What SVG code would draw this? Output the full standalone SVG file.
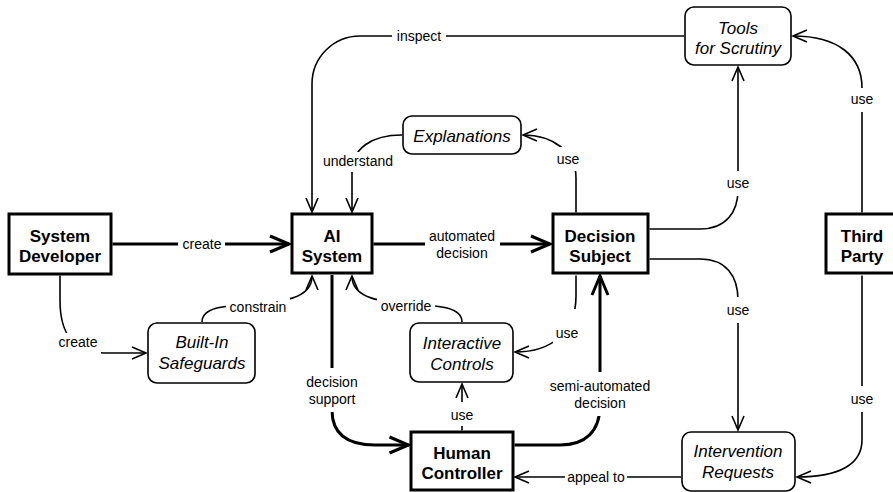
<svg xmlns="http://www.w3.org/2000/svg" width="893" height="492" viewBox="0 0 893 492">
<style>
  text{font-family:"Liberation Sans",Arial,Helvetica,sans-serif;fill:#000;text-anchor:middle}
  .node{fill:#fff;stroke:#000;stroke-width:3}
  .tool{fill:#fff;stroke:#000;stroke-width:1.6}
  .nt{font-size:17px;font-weight:bold}
  .tt{font-size:17px;font-style:italic}
  .c{fill:none;stroke:#000;stroke-width:1.6}
  .ck{fill:none;stroke:#000;stroke-width:3}
  .lb{fill:#fff;stroke:none}
  .lt{font-size:14px}
</style>
<defs>
  <marker id="at" viewBox="-22 -10 24 20" refX="0" refY="0" markerWidth="24" markerHeight="20" markerUnits="userSpaceOnUse" orient="auto" overflow="visible">
    <path d="M-14,-6 L0,0 L-14,6" fill="none" stroke="#000" stroke-width="1.6"/>
  </marker>
  <marker id="ak" viewBox="-22 -10 24 20" refX="0" refY="0" markerWidth="24" markerHeight="20" markerUnits="userSpaceOnUse" orient="auto" overflow="visible">
    <path d="M-19,-8 L0,0 L-19,8" fill="none" stroke="#000" stroke-width="3"/>
  </marker>
</defs>
<rect width="893" height="492" fill="#fff"/>
<g id="connectors">
  <path class="ck" d="M112.5,244 H289" marker-end="url(#ak)"/>
  <path class="c" d="M60,275.5 V300 C60,330 70,353 105,353 H146" marker-end="url(#at)"/>
  <path class="c" d="M202,322 C202,290 312,320 312,276" marker-end="url(#at)"/>
  <path class="ck" d="M373.5,244 H550" marker-end="url(#ak)"/>
  <path class="c" d="M402,135 C372,135 352,148 352,172 V212" marker-end="url(#at)"/>
  <path class="c" d="M576,212.5 V178 C576,152 553,135 523,135" marker-end="url(#at)"/>
  <path class="c" d="M684,36 H360 A48,48 0 0 0 312,84 V212" marker-end="url(#at)"/>
  <path class="c" d="M649.5,229 H700 C726,229 738,212 738,190 V67" marker-end="url(#at)"/>
  <path class="c" d="M862,212.5 V88 C862,56 838,36 793,36" marker-end="url(#at)"/>
  <path class="c" d="M649.5,259 H700 C726,259 738,276 738,300 V430" marker-end="url(#at)"/>
  <path class="c" d="M862,275.5 V440 C862,464 840,477 797,477" marker-end="url(#at)"/>
  <path class="c" d="M681,477 H515" marker-end="url(#at)"/>
  <path class="ck" d="M332,275 V410 C332,432 345,445 375,445 H408.5" marker-end="url(#ak)"/>
  <path class="ck" d="M514.5,445 H560 C585,445 600,432 600,405 V276" marker-end="url(#ak)"/>
  <path class="c" d="M462,430.5 V384" marker-end="url(#at)"/>
  <path class="c" d="M576,275.5 V296 C576,332 552,352 515,352" marker-end="url(#at)"/>
  <path class="c" d="M462,322 C462,290 352,320 352,276" marker-end="url(#at)"/>
  <g id="edge-labels">
    <rect class="lb" x="178" y="234" width="47" height="20"/>
    <text class="lt" x="202" y="249">create</text>
    <rect class="lb" x="55" y="333" width="46" height="22"/>
    <text class="lt" x="78" y="347">create</text>
    <rect class="lb" x="226" y="298" width="64" height="20"/>
    <text class="lt" x="258" y="312">constrain</text>
    <rect class="lb" x="425" y="227" width="75" height="36"/>
    <text class="lt" x="462" y="241">automated</text>
    <text class="lt" x="462" y="258">decision</text>
    <rect class="lb" x="319" y="152" width="78" height="20"/>
    <text class="lt" x="358" y="166">understand</text>
    <rect class="lb" x="555" y="147" width="27" height="24"/>
    <text class="lt" x="568" y="164">use</text>
    <rect class="lb" x="392" y="28" width="54" height="18"/>
    <text class="lt" x="419" y="41">inspect</text>
    <rect class="lb" x="724" y="171" width="28" height="25"/>
    <text class="lt" x="738" y="188">use</text>
    <rect class="lb" x="848" y="88" width="28" height="24"/>
    <text class="lt" x="862" y="104">use</text>
    <rect class="lb" x="724" y="297" width="28" height="26"/>
    <text class="lt" x="738" y="315">use</text>
    <rect class="lb" x="848" y="386" width="28" height="26"/>
    <text class="lt" x="862" y="404">use</text>
    <rect class="lb" x="565" y="468" width="62" height="18"/>
    <text class="lt" x="596" y="482">appeal to</text>
    <rect class="lb" x="300" y="368" width="64" height="44"/>
    <text class="lt" x="332" y="387">decision</text>
    <text class="lt" x="332" y="404">support</text>
    <rect class="lb" x="546" y="372" width="108" height="44"/>
    <text class="lt" x="600" y="391">semi-automated</text>
    <text class="lt" x="600" y="408">decision</text>
    <rect class="lb" x="448" y="402" width="28" height="24"/>
    <text class="lt" x="462" y="420">use</text>
    <rect class="lb" x="553" y="309" width="28" height="36"/>
    <text class="lt" x="567" y="338">use</text>
    <rect class="lb" x="377" y="297" width="58" height="20"/>
    <text class="lt" x="406" y="311">override</text>
  </g>
</g>
<g id="system-developer">
  <rect class="node" x="9" y="214" width="102" height="60"/>
  <text class="nt" x="60" y="242">System</text>
  <text class="nt" x="60" y="262">Developer</text>
</g>
<g id="ai-system">
  <rect class="node" x="292" y="214" width="80" height="59"/>
  <text class="nt" x="332" y="242">AI</text>
  <text class="nt" x="332" y="262">System</text>
</g>
<g id="decision-subject">
  <rect class="node" x="553" y="214" width="95" height="59"/>
  <text class="nt" x="600" y="242">Decision</text>
  <text class="nt" x="600" y="262">Subject</text>
</g>
<g id="third-party">
  <rect class="node" x="826" y="214" width="72" height="59"/>
  <text class="nt" x="862" y="242">Third</text>
  <text class="nt" x="862" y="262">Party</text>
</g>
<g id="human-controller">
  <rect class="node" x="411" y="432" width="102" height="58"/>
  <text class="nt" x="462" y="459">Human</text>
  <text class="nt" x="462" y="479">Controller</text>
</g>
<g id="tools-for-scrutiny">
  <rect class="tool" x="685" y="7" width="106" height="58" rx="9"/>
  <text class="tt" x="738" y="34">Tools</text>
  <text class="tt" x="738" y="54">for Scrutiny</text>
</g>
<g id="explanations">
  <rect class="tool" x="403" y="116" width="118" height="38" rx="9"/>
  <text class="tt" x="462" y="142">Explanations</text>
</g>
<g id="built-in-safeguards">
  <rect class="tool" x="148" y="323" width="107" height="60" rx="9"/>
  <text class="tt" x="202" y="348">Built-In</text>
  <text class="tt" x="202" y="369">Safeguards</text>
</g>
<g id="interactive-controls">
  <rect class="tool" x="410" y="323" width="103" height="59" rx="9"/>
  <text class="tt" x="462" y="349">Interactive</text>
  <text class="tt" x="462" y="370">Controls</text>
</g>
<g id="intervention-requests">
  <rect class="tool" x="682" y="432" width="113" height="59" rx="9"/>
  <text class="tt" x="738" y="457">Intervention</text>
  <text class="tt" x="738" y="478">Requests</text>
</g>
</svg>
